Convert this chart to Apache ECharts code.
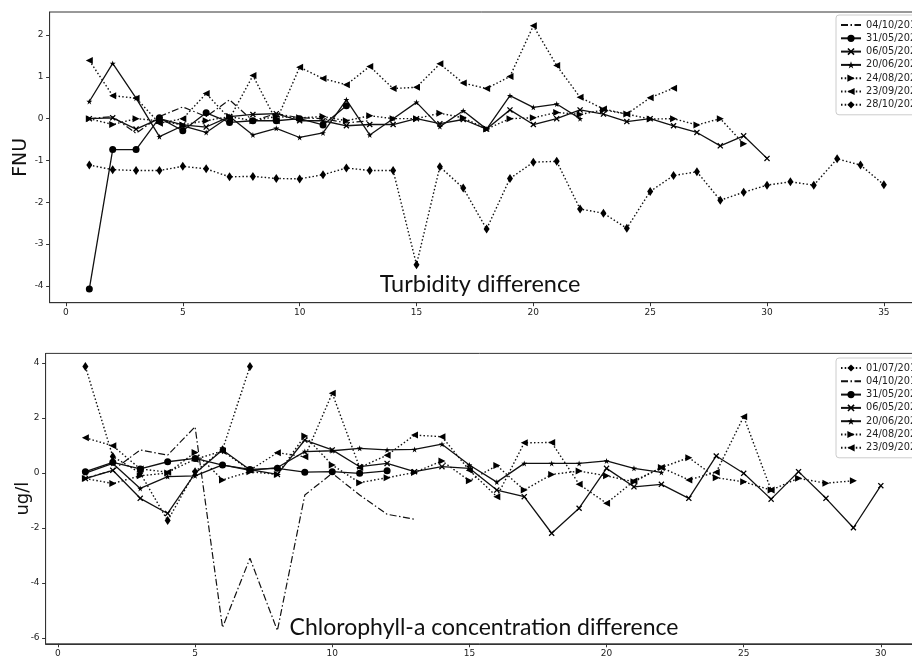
<!DOCTYPE html>
<html>
<head>
<meta charset="utf-8">
<script src="https://cdn.jsdelivr.net/npm/echarts@6/dist/echarts.min.js"></script>
<style>
  html, body { margin: 0; padding: 0; background: #fff; }
  #chart { width: 912px; height: 659px; }
</style>
</head>
<body>
<div id="chart"></div>
<script>
// ---- Turbidity difference (FNU), per sample point ----
const stepsTop = [1,2,3,4,5,6,7,8,9,10,11,12,13,14,15,16,17,18,19,20,21,22,23,24,25,26,27,28,29,30,31,32,33,34,35];
const turb_20191004 = [0, 0.05, -0.35, 0.05, 0.28, 0.05, 0.45, -0.05, 0.12, 0.02, 0.0, -0.1, -0.05];
const turb_20200531 = [-4.07, -0.74, -0.74, 0.02, -0.29, 0.14, -0.09, -0.05, -0.05, 0.0, -0.15, 0.31];
const turb_20210506 = [0, 0.02, -0.25, 0.0, -0.15, -0.2, 0.05, 0.1, 0.12, -0.05, -0.05, -0.17, -0.14, -0.14, 0, -0.12, -0.02, -0.25, 0.21, -0.14, 0, 0.21, 0.11, -0.07, 0, -0.17, -0.33, -0.65, -0.41, -0.95];
const turb_20210620 = [0.41, 1.32, 0.49, -0.43, -0.17, -0.33, 0.05, -0.39, -0.23, -0.45, -0.34, 0.45, -0.39, 0, 0.39, -0.19, 0.19, -0.25, 0.55, 0.27, 0.35, 0.0];
const turb_20210824 = [0, -0.14, 0.0, -0.05, -0.15, -0.05, 0.05, -0.05, 0.05, 0.02, 0.05, -0.05, 0.07, 0.0, 0.0, 0.13, 0.02, -0.25, 0.0, 0.02, 0.15, 0.1, 0.21, 0.11, -0.01, 0.0, -0.15, 0.0, -0.6];
const turb_20210923 = [1.39, 0.55, 0.49, -0.11, 0.0, 0.6, 0.0, 1.03, -0.05, 1.23, 0.96, 0.81, 1.25, 0.72, 0.75, 1.31, 0.85, 0.72, 1.01, 2.22, 1.27, 0.51, 0.23, 0.11, 0.5, 0.73];
const turb_20211028 = [-1.11, -1.22, -1.24, -1.24, -1.14, -1.2, -1.39, -1.38, -1.43, -1.44, -1.34, -1.18, -1.24, -1.24, -3.49, -1.15, -1.66, -2.64, -1.43, -1.04, -1.02, -2.16, -2.26, -2.62, -1.74, -1.36, -1.27, -1.95, -1.76, -1.59, -1.51, -1.59, -0.96, -1.11, -1.58];

// ---- Chlorophyll-a concentration difference (ug/l) ----
const stepsBottom = [1,2,3,4,5,6,7,8,9,10,11,12,13,14,15,16,17,18,19,20,21,22,23,24,25,26,27,28,29,30];
const chl_20150701 = [3.87, 0.6, 0.0, -1.73, 0.05, 0.85, 3.87];
const chl_20191004 = [-0.19, 0.1, 0.84, 0.65, 1.68, -5.62, -3.1, -5.73, -0.8, -0.01, -0.8, -1.5, -1.68];
const chl_20200531 = [0.05, 0.39, 0.15, 0.41, 0.53, 0.29, 0.13, 0.17, 0.03, 0.05, -0.01, 0.08];
const chl_20210506 = [-0.2, 0.1, -0.92, -1.47, -0.01, 0.84, 0.12, -0.05, 1.2, 0.84, 0.23, 0.35, 0.05, 0.23, 0.17, -0.62, -0.86, -2.19, -1.28, 0.17, -0.5, -0.41, -0.92, 0.62, -0.01, -0.95, 0.05, -0.92, -1.99, -0.46];
const chl_20210620 = [0.0, 0.35, -0.56, -0.13, -0.1, 0.3, 0.1, 0.2, 0.78, 0.81, 0.9, 0.84, 0.86, 1.05, 0.29, -0.33, 0.35, 0.35, 0.35, 0.44, 0.17, 0.02];
const chl_20210824 = [-0.2, -0.38, -0.1, 0.0, 0.75, -0.25, 0.05, -0.05, 1.35, 0.29, -0.35, -0.17, 0.02, 0.44, -0.28, 0.27, -0.62, -0.05, 0.07, -0.1, -0.32, 0.2, 0.56, -0.17, -0.32, -0.62, -0.19, -0.37, -0.28];
const chl_20210923 = [1.28, 0.99, 0.15, 0.03, 0.5, 0.8, 0.1, 0.74, 0.59, 2.9, 0.2, 0.65, 1.38, 1.32, 0.1, -0.86, 1.1, 1.11, -0.41, -1.1, -0.29, 0.2, -0.25, 0.03, 2.05, -0.62];

// axis tick labels
const ticksTopX = [0, 5, 10, 15, 20, 25, 30, 35];
const ticksTopY = [-4, -3, -2, -1, 0, 1, 2];
const ticksBottomX = [0, 5, 10, 15, 20, 25, 30];
const ticksBottomY = [-6, -4, -2, 0, 2, 4];

// marker shapes
const SYM_X = 'path://M0,1.5L1.5,0L5,3.5L8.5,0L10,1.5L6.5,5L10,8.5L8.5,10L5,6.5L1.5,10L0,8.5L3.5,5Z';
const SYM_STAR = 'path://M5,0L6.2,3.6L10,3.6L6.9,5.9L8.1,9.5L5,7.3L1.9,9.5L3.1,5.9L0,3.6L3.8,3.6Z';
const SYM_RIGHT = 'path://M0,0L10,5L0,10Z';
const SYM_LEFT = 'path://M10,0L0,5L10,10Z';
const SYM_DIAMOND = 'path://M3,0L6,5L3,10L0,5Z';

const DOT = [1.5, 2.2];
const DASHDOT = [7, 2.5, 1.5, 2.5];

const styles = {
  '01/07/2015': { symbol: SYM_DIAMOND, size: [6, 9], dash: DOT, width: 1.4 },
  '04/10/2019': { symbol: 'none', size: 0, dash: DASHDOT, width: 1.2 },
  '31/05/2020': { symbol: 'circle', size: 7, dash: 'solid', width: 1.3 },
  '06/05/2021': { symbol: SYM_X, size: 6, dash: 'solid', width: 1.3 },
  '20/06/2021': { symbol: SYM_STAR, size: 6, dash: 'solid', width: 1.3 },
  '24/08/2021': { symbol: SYM_RIGHT, size: 7, dash: DOT, width: 1.4 },
  '23/09/2021': { symbol: SYM_LEFT, size: 7, dash: DOT, width: 1.4 },
  '28/10/2021': { symbol: SYM_DIAMOND, size: [6, 9], dash: DOT, width: 1.4 }
};

function makeSeries(name, steps, values, gridIndex) {
  const st = styles[name];
  return {
    name: name,
    type: 'line',
    xAxisIndex: gridIndex,
    yAxisIndex: gridIndex,
    data: values.map((v, i) => [steps[i], v]),
    symbol: st.symbol,
    symbolSize: st.size,
    lineStyle: { color: '#111', width: st.width, type: st.dash },
    itemStyle: { color: '#000' },
    emphasis: { disabled: true },
    z: 3
  };
}

const topSeries = [
  ['04/10/2019', turb_20191004],
  ['31/05/2020', turb_20200531],
  ['06/05/2021', turb_20210506],
  ['20/06/2021', turb_20210620],
  ['24/08/2021', turb_20210824],
  ['23/09/2021', turb_20210923],
  ['28/10/2021', turb_20211028]
];
const bottomSeries = [
  ['01/07/2015', chl_20150701],
  ['04/10/2019', chl_20191004],
  ['31/05/2020', chl_20200531],
  ['06/05/2021', chl_20210506],
  ['20/06/2021', chl_20210620],
  ['24/08/2021', chl_20210824],
  ['23/09/2021', chl_20210923]
];

const series = [];
topSeries.forEach(s => series.push(makeSeries(s[0], stepsTop, s[1], 0)));
bottomSeries.forEach(s => series.push(makeSeries(s[0], stepsBottom, s[1], 1)));

const AX = '#333';
const tickFont = { fontSize: 9, fontFamily: 'DejaVu Sans', color: '#222' };

function xAxis(gridIndex, min, max, ticks) {
  return {
    type: 'value', gridIndex: gridIndex, min: min, max: max,
    axisLine: { show: true, onZero: false, lineStyle: { color: AX, width: 1 } },
    axisTick: { show: true, inside: false, length: 3.5, customValues: ticks, lineStyle: { color: AX } },
    axisLabel: Object.assign({ margin: 5, customValues: ticks }, tickFont),
    splitLine: { show: false }
  };
}
function yAxis(gridIndex, min, max, ticks, name, nameSize, gap) {
  return {
    type: 'value', gridIndex: gridIndex, min: min, max: max,
    name: name, nameLocation: 'middle', nameRotate: 90, nameGap: gap, nameMoveOverlap: false,
    nameTextStyle: { fontSize: nameSize, fontFamily: 'DejaVu Sans', color: '#111' },
    axisLine: { show: true, onZero: false, lineStyle: { color: AX, width: 1 } },
    axisTick: { show: true, inside: false, length: 3.5, customValues: ticks, lineStyle: { color: AX } },
    axisLabel: Object.assign({ margin: 6, customValues: ticks }, tickFont),
    splitLine: { show: false }
  };
}

// the dash-dot series has no marker, so its legend swatch shows the line only
function legendData(list) {
  return list.map(s => styles[s[0]].symbol === 'none'
    ? { name: s[0], itemStyle: { color: 'rgba(0,0,0,0)', borderWidth: 0 } }
    : { name: s[0] });
}

const legendBase = {
  orient: 'vertical',
  left: 836,
  itemWidth: 20,
  itemHeight: 9,
  itemGap: 3.3,
  selectedMode: false,
  padding: [5, 6, 5, 4],
  borderColor: '#cccccc',
  borderWidth: 1,
  borderRadius: 3,
  backgroundColor: 'rgba(255,255,255,0.85)',
  textStyle: { fontSize: 9.8, fontFamily: 'DejaVu Sans', color: '#222' }
};

const chart = echarts.init(document.getElementById('chart'), null, { renderer: 'canvas' });
chart.setOption({
  animation: false,
  backgroundColor: '#fff',
  grid: [
    { left: 49.6, top: 12, width: 874, height: 290.7, show: true, borderColor: AX, borderWidth: 1,
      backgroundColor: 'transparent', outerBoundsMode: 'none', containLabel: false },
    { left: 45.6, top: 353.4, width: 875, height: 290.4, show: true, borderColor: AX, borderWidth: 1,
      backgroundColor: 'transparent', outerBoundsMode: 'none', containLabel: false }
  ],
  xAxis: [
    xAxis(0, -0.7, 36.7, ticksTopX),
    xAxis(1, -0.45, 31.45, ticksBottomX)
  ],
  yAxis: [
    yAxis(0, -4.4, 2.55, ticksTopY, 'FNU', 19, 19),
    yAxis(1, -6.21, 4.35, ticksBottomY, 'ug/l', 18, 13)
  ],
  legend: [
    Object.assign({}, legendBase, { top: 15, data: legendData(topSeries) }),
    Object.assign({}, legendBase, { top: 358, data: legendData(bottomSeries) })
  ],
  graphic: [
    { type: 'text', x: 480, y: 284, z: 10,
      style: { text: 'Turbidity difference', fontSize: 23.5, fontFamily: 'Lato', fill: '#111', align: 'center', verticalAlign: 'middle' } },
    { type: 'text', x: 484, y: 628, z: 10,
      style: { text: 'Chlorophyll-a concentration difference', fontSize: 23, fontFamily: 'Lato', fill: '#111', align: 'center', verticalAlign: 'middle' } }
  ],
  series: series
});
</script>
</body>
</html>
